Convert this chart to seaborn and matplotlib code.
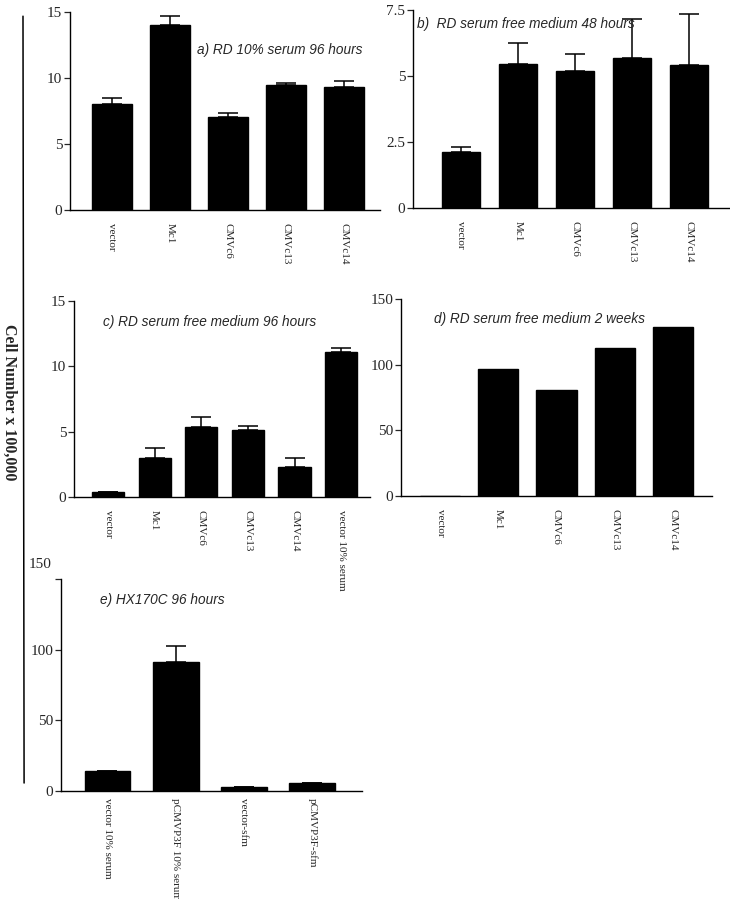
import numpy as np
import pandas as pd
import matplotlib.pyplot as plt
import seaborn as sns
from matplotlib.lines import Line2D

# 1. Data
rd_labels = ['vector', 'Mc1', 'CMVc6', 'CMVc13', 'CMVc14']

a_vals = [8.0, 14.05, 7.05, 9.45, 9.3]
a_err = [0.45, 0.65, 0.32, 0.15, 0.47]

b_vals = [2.13, 5.45, 5.21, 5.69, 5.43]
b_err = [0.18, 0.79, 0.63, 1.47, 1.92]

c_labels = ['vector', 'Mc1', 'CMVc6', 'CMVc13', 'CMVc14', 'vector 10% serum']
c_vals = [0.36, 3.0, 5.33, 5.1, 2.27, 11.07]
c_err = [0.0, 0.77, 0.79, 0.36, 0.73, 0.33]

d_vals = [0.0, 96.6, 80.8, 112.6, 128.9]

e_labels = ['vector 10% serum', 'pCMVP3F 10% serum', 'vector-sfm', 'pCMVP3F-sfm']
e_vals = [13.7, 91.2, 2.6, 5.2]
e_err = [0.0, 11.1, 0.0, 0.0]

sns.set_style('ticks')
plt.rcParams['font.family'] = ['Liberation Serif', 'DejaVu Serif']

fig = plt.figure(figsize=(7.3, 8.99), dpi=100)

# axes rectangles [left, bottom, width, height] in figure fraction
panels = [
    dict(rect=[0.0959, 0.7664, 0.4247, 0.2202], labels=rd_labels, vals=a_vals, err=a_err,
         ylim=15, yticks=[0, 5, 10, 15], xlim=(-0.72, 4.62), width=0.69, pad=9.5,
         title='a) RD 10% serum 96 hours', tpos=(0.41, 0.808)),
    dict(rect=[0.5658, 0.7686, 0.4342, 0.2202], labels=rd_labels, vals=b_vals, err=b_err,
         ylim=7.5, yticks=[0, 2.5, 5, 7.5], xlim=(-0.84, 4.72), width=0.68, pad=9.5,
         title='b)  RD serum free medium 48 hours', tpos=(0.013, 0.929)),
    dict(rect=[0.1014, 0.4472, 0.4055, 0.2180], labels=c_labels, vals=c_vals, err=c_err,
         ylim=15, yticks=[0, 5, 10, 15], xlim=(-0.73, 5.62), width=0.69, pad=9.5,
         title='c) RD serum free medium 96 hours', tpos=(0.098, 0.893)),
    dict(rect=[0.5493, 0.4483, 0.4260, 0.2188], labels=rd_labels, vals=d_vals, err=None,
         ylim=150, yticks=[0, 50, 100, 150], xlim=(-0.67, 4.67), width=0.69, pad=9.5,
         title='d) RD serum free medium 2 weeks', tpos=(0.106, 0.90)),
    dict(rect=[0.0836, 0.1205, 0.4123, 0.2355], labels=e_labels, vals=e_vals, err=e_err,
         ylim=150, yticks=[0, 50, 100, 150], xlim=(-0.68, 3.73), width=0.67, pad=5,
         title='e) HX170C 96 hours', tpos=(0.13, 0.90)),
]

for i, p in enumerate(panels):
    ax = fig.add_axes(p['rect'])
    df = pd.DataFrame({'group': p['labels'], 'value': p['vals']})
    sns.barplot(data=df, x='group', y='value', color='black', width=p['width'],
                saturation=1, edgecolor='black', ax=ax)

    if p['err'] is not None:
        n = len(p['vals'])
        ax.errorbar(np.arange(n), p['vals'], yerr=[np.zeros(n), p['err']],
                    fmt='none', ecolor='black', elinewidth=1.1, capsize=7, capthick=1.1)

    ax.set_xlim(*p['xlim'])
    ax.set_ylim(0, p['ylim'])
    ax.set_yticks(p['yticks'])
    ax.set_yticklabels(['%g' % t for t in p['yticks']], fontsize=11)
    ax.set_xticks(range(len(p['labels'])))
    ax.set_xticklabels(p['labels'], rotation=270, fontsize=8, va='top', ha='center')
    ax.tick_params(axis='x', length=0, pad=p['pad'])
    ax.tick_params(axis='y', length=4, width=0.9, pad=1.5, direction='out')
    ax.set_xlabel('')
    ax.set_ylabel('')
    ax.set_facecolor('none')
    sns.despine(ax=ax)
    for s in ['left', 'bottom']:
        ax.spines[s].set_linewidth(1.0)
        ax.spines[s].set_color('black')

    ax.text(p['tpos'][0], p['tpos'][1], p['title'], transform=ax.transAxes,
            fontsize=9.8, style='italic', family=['Liberation Sans', 'DejaVu Sans'],
            va='center', ha='left')

    # panel e: top label sits higher than its tick
    if i == 4:
        ax.set_yticklabels(['0', '50', '100', ''], fontsize=11)
        ax.text(-0.03, 1.066, '150', transform=ax.transAxes, fontsize=11,
                ha='right', va='center')

# shared y label and the long vertical rule
fig.text(0.0123, 0.553, 'Cell Number x 100,000', rotation=270, fontsize=11.5,
         fontweight='bold', ha='center', va='center')
fig.add_artist(Line2D([0.0315, 0.0330], [0.982, 0.129], color='black', linewidth=1.1))

fig.savefig('out.png', dpi=100, facecolor='white')
